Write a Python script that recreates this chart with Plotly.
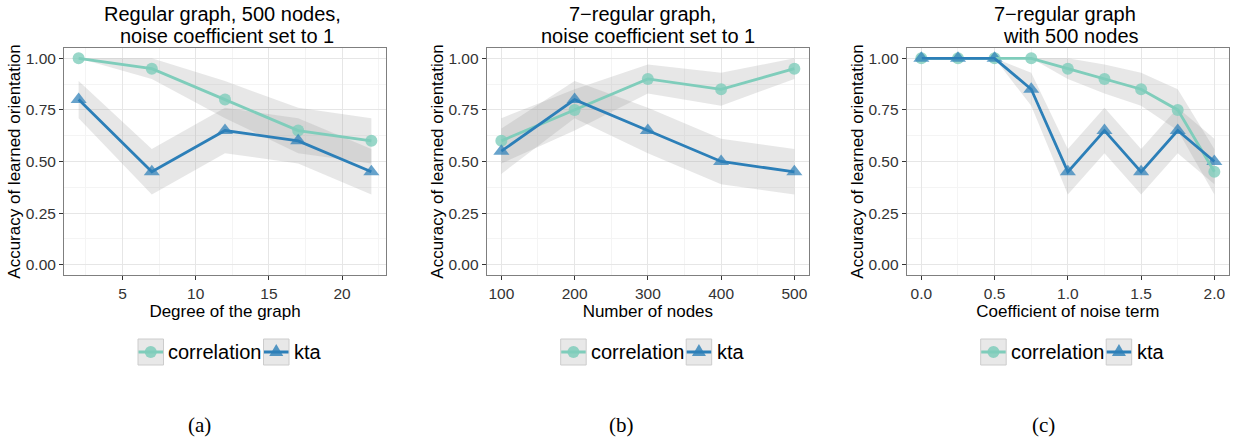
import plotly.graph_objects as go

W, H = 1239, 438

# ---------------- data ----------------
# Panel (a): regular graph, 500 nodes, noise coefficient 1
a_degree = [2, 7, 12, 17, 22]
a_corr = [1.00, 0.95, 0.80, 0.65, 0.60]
a_corr_lo = [1.00, 0.90, 0.71, 0.54, 0.49]
a_corr_hi = [1.00, 1.00, 0.89, 0.76, 0.71]
a_kta = [0.80, 0.45, 0.65, 0.60, 0.45]
a_kta_lo = [0.71, 0.34, 0.54, 0.49, 0.34]
a_kta_hi = [0.89, 0.56, 0.76, 0.71, 0.56]

# Panel (b): 7-regular graph, noise coefficient 1
b_nodes = [100, 200, 300, 400, 500]
b_corr = [0.60, 0.75, 0.90, 0.85, 0.95]
b_corr_lo = [0.49, 0.65, 0.83, 0.77, 0.90]
b_corr_hi = [0.71, 0.85, 0.97, 0.93, 1.00]
b_kta = [0.55, 0.80, 0.65, 0.50, 0.45]
b_kta_lo = [0.44, 0.71, 0.54, 0.39, 0.34]
b_kta_hi = [0.66, 0.89, 0.76, 0.61, 0.56]

# Panel (c): 7-regular graph with 500 nodes
c_noise = [0.0, 0.25, 0.5, 0.75, 1.0, 1.25, 1.5, 1.75, 2.0]
c_corr = [1.00, 1.00, 1.00, 1.00, 0.95, 0.90, 0.85, 0.75, 0.45]
c_corr_lo = [1.00, 1.00, 1.00, 1.00, 0.90, 0.83, 0.77, 0.65, 0.34]
c_corr_hi = [1.00, 1.00, 1.00, 1.00, 1.00, 0.97, 0.93, 0.85, 0.56]
c_kta = [1.00, 1.00, 1.00, 0.85, 0.45, 0.65, 0.45, 0.65, 0.50]
c_kta_lo = [1.00, 1.00, 1.00, 0.77, 0.34, 0.54, 0.34, 0.54, 0.39]
c_kta_hi = [1.00, 1.00, 1.00, 0.93, 0.56, 0.76, 0.56, 0.76, 0.61]

series_names = ["correlation", "kta"]
y_ticks = [0.0, 0.25, 0.5, 0.75, 1.0]
y_label = "Accuracy of learned orientation"
x_labels = ["Degree of the graph", "Number of nodes", "Coefficient of noise term"]
titles = [
    ("Regular graph, 500 nodes,", "noise coefficient set to 1"),
    ("7\u2212regular graph,", "noise coefficient set to 1"),
    ("7\u2212regular graph", "with 500 nodes"),
]
captions = ["(a)", "(b)", "(c)"]

# ---------------- styling ----------------
CORR_COLOR = "#7FCDBB"
KTA_COLOR = "#2C7FB8"
RIBBON = "rgba(153,153,153,0.24)"
FONT = "Liberation Sans, Arial, Helvetica, sans-serif"
SERIF = "Liberation Serif, Times New Roman, serif"


def px(x):
    return x / W


def py(y):
    return 1 - y / H


panels = [
    dict(x=a_degree, corr=a_corr, corr_lo=a_corr_lo, corr_hi=a_corr_hi,
         kta=a_kta, kta_lo=a_kta_lo, kta_hi=a_kta_hi,
         left=64.0, right=386.0, xrange=[1, 23], dtick=5, tick0=0, minor=2.5,
         fmt="d", t1=222.5, t2=226.7, cap=199.5),
    dict(x=b_nodes, corr=b_corr, corr_lo=b_corr_lo, corr_hi=b_corr_hi,
         kta=b_kta, kta_lo=b_kta_lo, kta_hi=b_kta_hi,
         left=486.7, right=809.0, xrange=[80, 520], dtick=100, tick0=0, minor=50,
         fmt="d", t1=642.7, t2=647.5, cap=621.0),
    dict(x=c_noise, corr=c_corr, corr_lo=c_corr_lo, corr_hi=c_corr_hi,
         kta=c_kta, kta_lo=c_kta_lo, kta_hi=c_kta_hi,
         left=906.7, right=1229.0, xrange=[-0.1, 2.1], dtick=0.5, tick0=0, minor=0.25,
         fmt=".1f", t1=1064.7, t2=1070.8, cap=1043.0),
]

PLOT_TOP, PLOT_BOTTOM = 48.0, 275.0

fig = go.Figure()
layout = dict(
    width=W, height=H,
    margin=dict(l=0, r=0, t=0, b=0),
    paper_bgcolor="white", plot_bgcolor="white",
    showlegend=False,
    font=dict(family=FONT, color="black"),
)
annotations = []
shapes = []

for i, p in enumerate(panels):
    n = "" if i == 0 else str(i + 1)
    xa, ya = "x" + n, "y" + n

    # ribbons
    for lo, hi in ((p["corr_lo"], p["corr_hi"]), (p["kta_lo"], p["kta_hi"])):
        fig.add_trace(go.Scatter(x=p["x"], y=lo, mode="lines", line=dict(width=0),
                                 hoverinfo="skip", xaxis=xa, yaxis=ya))
        fig.add_trace(go.Scatter(x=p["x"], y=hi, mode="lines", line=dict(width=0),
                                 fill="tonexty", fillcolor=RIBBON,
                                 hoverinfo="skip", xaxis=xa, yaxis=ya))
    # markers (under the lines)
    fig.add_trace(go.Scatter(x=p["x"], y=p["corr"], mode="markers", name=series_names[0],
                             marker=dict(symbol="circle", size=12, color=CORR_COLOR,
                                         opacity=0.8, line=dict(width=0)),
                             xaxis=xa, yaxis=ya))
    fig.add_trace(go.Scatter(x=p["x"], y=p["kta"], mode="markers", name=series_names[1],
                             marker=dict(symbol="triangle-up", size=14, color=KTA_COLOR,
                                         opacity=0.72, line=dict(width=0)),
                             xaxis=xa, yaxis=ya))
    # lines
    fig.add_trace(go.Scatter(x=p["x"], y=p["corr"], mode="lines", name=series_names[0],
                             line=dict(color=CORR_COLOR, width=2.8),
                             xaxis=xa, yaxis=ya))
    fig.add_trace(go.Scatter(x=p["x"], y=p["kta"], mode="lines", name=series_names[1],
                             line=dict(color=KTA_COLOR, width=2.8),
                             xaxis=xa, yaxis=ya))

    common = dict(
        showline=True, linecolor="#7F7F7F", linewidth=1, mirror=True,
        ticks="outside", ticklen=4, tickwidth=1, tickcolor="#333333",
        showgrid=True, gridcolor="#E6E6E6", gridwidth=1, zeroline=False,
        tickfont=dict(family=FONT, size=15.5, color="#333333"),
    )
    layout["xaxis" + n] = dict(
        common,
        domain=[px(p["left"]), px(p["right"])],
        range=p["xrange"], anchor=ya,
        tickmode="linear", tick0=p["tick0"], dtick=p["dtick"],
        tickformat=p["fmt"],
        minor=dict(dtick=p["minor"], tick0=p["tick0"], showgrid=True,
                   gridcolor="#F4F4F4", gridwidth=1, ticks=""),
        title=dict(text=x_labels[i], font=dict(family=FONT, size=17, color="black"),
                   standoff=0),
    )
    layout["yaxis" + n] = dict(
        common,
        domain=[py(PLOT_BOTTOM), py(PLOT_TOP)],
        range=[-0.05, 1.05], anchor=xa,
        tickmode="array", tickvals=y_ticks, tickformat=".2f",
        minor=dict(tickvals=[0.125, 0.375, 0.625, 0.875], showgrid=True,
                   gridcolor="#F4F4F4", gridwidth=1, ticks=""),
        title=dict(text=y_label, font=dict(family=FONT, size=17, color="black"),
                   standoff=0),
    )

    # panel titles (two lines)
    annotations.append(dict(text=titles[i][0], x=px(p["t1"]), y=py(13.8), xref="paper",
                            yref="paper", xanchor="center", yanchor="middle",
                            showarrow=False, font=dict(family=FONT, size=20, color="black")))
    annotations.append(dict(text=titles[i][1], x=px(p["t2"]), y=py(36.4), xref="paper",
                            yref="paper", xanchor="center", yanchor="middle",
                            showarrow=False, font=dict(family=FONT, size=20, color="black")))
    # caption
    annotations.append(dict(text=captions[i], x=px(p["cap"]), y=py(425), xref="paper",
                            yref="paper", xanchor="center", yanchor="middle",
                            showarrow=False, font=dict(family=SERIF, size=21, color="black")))

    # legend (drawn under each panel, ggplot style keys)
    off = p["left"] - 64.0
    keys = [
        dict(x0=138.0 + off, name=series_names[0], color=CORR_COLOR, sym="circle",
             tx=166.5 + off),
        dict(x0=263.5 + off, name=series_names[1], color=KTA_COLOR, sym="triangle",
             tx=292.0 + off),
    ]
    for k in keys:
        x0, x1 = k["x0"], k["x0"] + 25.5
        y0, y1 = 339.0, 365.0
        cx, cy = (x0 + x1) / 2, 352.0
        shapes.append(dict(type="rect", xref="paper", yref="paper",
                           x0=px(x0), x1=px(x1), y0=py(y1), y1=py(y0),
                           fillcolor="#E8E8E8", line=dict(color="#CCCCCC", width=1)))
        if k["sym"] == "circle":
            shapes.append(dict(type="circle", xref="paper", yref="paper",
                               x0=px(cx - 6), x1=px(cx + 6), y0=py(cy + 6), y1=py(cy - 6),
                               fillcolor=k["color"], opacity=0.85, line=dict(width=0)))
        else:
            path = "M {:.5f},{:.5f} L {:.5f},{:.5f} L {:.5f},{:.5f} Z".format(
                px(cx - 7), py(cy + 4), px(cx + 7), py(cy + 4), px(cx), py(cy - 8))
            shapes.append(dict(type="path", xref="paper", yref="paper", path=path,
                               fillcolor=k["color"], opacity=0.8, line=dict(width=0)))
        shapes.append(dict(type="line", xref="paper", yref="paper",
                           x0=px(x0 + 0.5), x1=px(x1 - 0.5), y0=py(cy), y1=py(cy),
                           line=dict(color=k["color"], width=3)))
        annotations.append(dict(text=k["name"], x=px(k["tx"]), y=py(cy), xref="paper",
                                yref="paper", xanchor="left", yanchor="middle",
                                showarrow=False,
                                font=dict(family=FONT, size=20, color="black")))

layout["annotations"] = annotations
layout["shapes"] = shapes
fig.update_layout(**layout)

fig.write_html("out.html")
